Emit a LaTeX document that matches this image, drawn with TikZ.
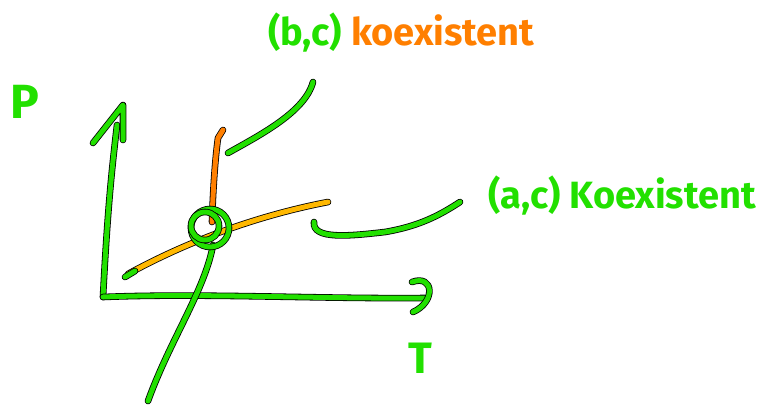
\documentclass[tikz,border=0pt]{standalone}
\usepackage{fontspec}
\setmainfont{Fira Sans}
\definecolor{pgreen}{HTML}{22E000}
\definecolor{porange}{HTML}{FF7F00}
\definecolor{pyellow}{HTML}{FFB800}
\begin{document}
\begin{tikzpicture}[x=1pt,y=-1pt,
  stroke/.style={draw=black, double=#1, double distance=5pt, line width=0.8pt, line cap=round, line join=round},
  lab/.style={font=\fontsize{38}{40}\selectfont\bfseries, text=#1, inner sep=0pt, anchor=west}]
\useasboundingbox (0,0) rectangle (768,408);
% axes
\draw[stroke=pgreen] (103,297) .. controls (108,200) and (113,160) .. (117,125);
\draw[stroke=pgreen] (93,143) -- (123,105) -- (123,140);
\draw[stroke=pgreen] (103,297) .. controls (200,293) and (320,299) .. (425,298);
\draw[stroke=pgreen] (412,282) .. controls (434,274) and (436,302) .. (413,312);
% (a,c) line
\draw[stroke=pyellow] (128,274) .. controls (190,240) and (260,215) .. (328,202);
\draw[stroke=pgreen] (125,277) -- (135,271);
% long green line
\draw[stroke=pgreen] (148,401) .. controls (170,340) and (205,290) .. (213,245);
% (b,c) line
\draw[stroke=porange] (212,222) .. controls (213,190) and (215,160) .. (218,138) -- (223,130);
% circle
\node[circle, minimum size=38pt, stroke=pgreen] (tp) at (210,228) {};
\draw[stroke=pgreen] (205,226) circle (14);
% pointers
\coordinate (bc1) at (228,153);
\coordinate (ac1) at (314,222);
\draw[stroke=pgreen] (bc1) .. controls (260,135) and (305,112) .. (313,82);
\draw[stroke=pgreen] (ac1) .. controls (312,240) and (350,236) .. (385,232) .. controls (420,226) and (440,215) .. (460,202);
% labels
\node[lab=pgreen, font=\fontsize{48}{50}\selectfont\bfseries] (P) at (10,102) {P};
\node[lab=pgreen, font=\fontsize{44}{46}\selectfont\bfseries] (T) at (408,358) {T};
\node[lab=pgreen] (bc) at (268,33) {(b,c) \textcolor{porange}{koexistent}};
\node[lab=pgreen] (ac) at (488,196) {(a,c) Koexistent};
\end{tikzpicture}
\end{document}
